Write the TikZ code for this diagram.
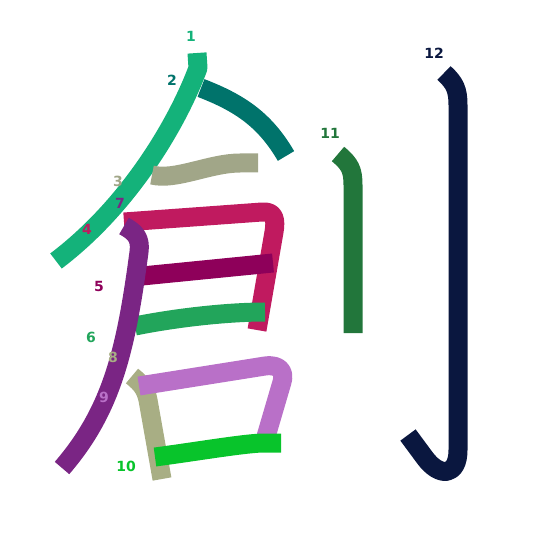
\documentclass[tikz,border=0pt]{standalone}
\usepackage{fontspec}
\setmainfont{DejaVu Sans}
\definecolor{sA}{HTML}{14B27A}
\definecolor{sB}{HTML}{00736B}
\definecolor{sC}{HTML}{A1A688}
\definecolor{sD}{HTML}{C01A5F}
\definecolor{sE}{HTML}{8E005A}
\definecolor{sF}{HTML}{22A55B}
\definecolor{sG}{HTML}{7A2584}
\definecolor{sH}{HTML}{A8AE84}
\definecolor{sI}{HTML}{B970C8}
\definecolor{sJ}{HTML}{08C42B}
\definecolor{sK}{HTML}{22763B}
\definecolor{sL}{HTML}{0A173F}

\begin{document}
\begin{tikzpicture}[x=1pt,y=-1pt,
stroke/.style = {line width=19pt, line cap=butt, line join=round},
num/.style = {font=\fontsize{14}{16}\selectfont\bfseries, inner sep=0pt}]

\useasboundingbox (0,0) rectangle (545,545);
\draw[stroke,sB] (201,88) .. controls (240,103) and (265,120) .. (286,156);
\draw[stroke,sA] (197,53) -- (198,68) .. controls (178,122) and (130,205) .. (56,261);
\draw[stroke,sC] (152,175) .. controls (175,181) and (210,163) .. (240,163) -- (258,163);
\draw[stroke,sD] (124,222) -- (262,212) .. controls (275,211) and (276,220) .. (274,232) -- (257,330);
\draw[stroke,sE] (142,276) -- (273,263);
\draw[stroke,sF] (135,326) .. controls (180,317) and (230,312) .. (265,312);
\draw[stroke,sG] (124,226) .. controls (135,232) and (141,238) .. (139,252)
      .. controls (126,350) and (112,410) .. (62,468);
\draw[stroke,sH] (132,376) .. controls (142,384) and (146,390) .. (148,400) -- (162,479);
\draw[stroke,sI] (139,386) -- (265,366) .. controls (280,364) and (285,372) .. (282,382) -- (265,440);
\draw[stroke,sJ] (155,457) .. controls (200,451) and (240,444) .. (262,443) -- (281,443);
\draw[stroke,sK] (338,154) .. controls (350,164) and (353,170) .. (353,185) -- (353,333);
\draw[stroke,sL] (444,73) .. controls (455,83) and (458,90) .. (458,105) -- (458,450)
      .. controls (458,476) and (440,478) .. (425,458) -- (408,435);

\foreach \n/\x/\y/\c in {1/191/36/sA, 2/172/80/sB, 3/118/181/sC, 4/87/229/sD,
      5/99/286/sE, 6/91/337/sF, 7/120/203/sG, 8/113/357/sH, 9/104/397/sI,
      10/126/466/sJ, 11/330/133/sK, 12/434/53/sL}
   \node[num,text=\c] (n\n) at (\x,\y) {\n};

\end{tikzpicture}
\end{document}
